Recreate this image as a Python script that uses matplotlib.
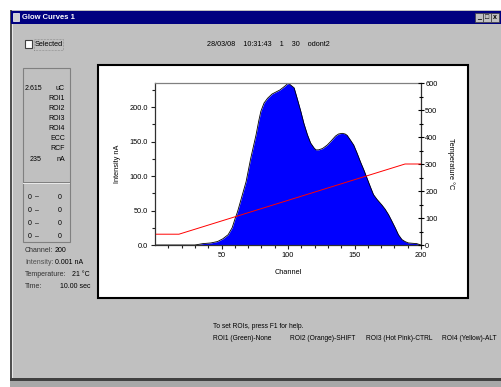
import matplotlib
matplotlib.use('Agg')
import matplotlib.pyplot as plt
import numpy as np
from matplotlib.patches import Rectangle

plt.rcParams['font.family'] = ['Liberation Sans', 'DejaVu Sans']

# glow curve (channel, intensity nA)
channel = [1, 30, 36, 42, 47, 51, 55, 58, 60, 62, 63.5, 66, 68.5, 72, 76, 78,
           79.6, 82, 84.7, 88, 91, 94, 96, 98, 99.6, 100.8, 102, 104.6, 107,
           109.6, 112, 114.6, 117, 119.5, 121, 123, 126, 129.5, 132, 135.7,
           138, 140.7, 143, 144.5, 147, 149.4, 152, 154.4, 157, 159.4, 162,
           164.3, 167, 170.6, 173, 175.6, 178, 180.6, 183, 185.6, 188, 190.5,
           196.8, 200]
intensity = [0, 0, 2, 3, 5, 9, 15, 25, 37, 48, 58, 75, 92, 126, 160, 180,
             194, 206, 213, 219, 222, 225, 228, 231, 234, 234, 232, 228, 212,
             194, 176, 160, 148, 141, 138, 138, 140, 145, 150, 158,
             161, 162, 161, 159, 152, 145, 133, 121, 109, 97, 84,
             73, 66, 58, 52, 44, 35, 25, 15, 8, 5, 3,
             2, 0]

# temperature profile
temp_ch = [1, 18, 188, 200]
temp_c = [40, 40, 300, 300]

header = '28/03/08    10:31:43    1    30    odont2'
panel_top = [('2.615', 'uC'), ('', 'ROI1'), ('', 'ROI2'), ('', 'ROI3'),
             ('', 'ROI4'), ('', 'ECC'), ('', 'RCF'), ('235', 'nA')]
roi_rows = [('0', '0')] * 4
status = [('Channel:', '200'), ('Intensity:', '0.001 nA'),
          ('Temperature:', '21 \u00b0C'), ('Time:', '10.00 sec')]
help_line = 'To set ROIs, press F1 for help.'
roi_keys = ['ROI1 (Green)-None', 'ROI2 (Orange)-SHIFT',
            'ROI3 (Hot Pink)-CTRL', 'ROI4 (Yellow)-ALT']
roi_x = [213, 290, 366, 442]

W, H = 501, 387
fig = plt.figure(figsize=(W / 100, H / 100), dpi=100)
fig.patch.set_facecolor('white')


def px(x, y):
    return x / W, 1 - y / H


def box(x0, y0, x1, y1, fc, ec='none', lw=0, z=0, ls='-'):
    fig.patches.append(Rectangle(px(x0, y1), (x1 - x0) / W, (y1 - y0) / H,
                                 transform=fig.transFigure, fc=fc, ec=ec,
                                 lw=lw, zorder=z, ls=ls))


def txt(x, y, s, size=5, ha='left', color='black', **kw):
    fig.text(*px(x, y), s, fontsize=size, ha=ha, va='center', color=color, **kw)


# window frame
box(10, 10, 501, 387, '#c0c0c0')
box(10, 378, 501, 381, '#404040')
box(10, 381, 501, 387, '#a8a8a8')
box(10, 10, 11.5, 378, '#505050')
box(11.5, 24, 13, 378, '#e8e8e8')
# title bar
box(11, 11, 501, 24, '#000080')
box(13, 13, 19, 21, '#d0d0d0', ec='white', lw=0.5, z=1)
txt(22, 17.5, 'Glow Curves 1', size=5.5, color='white', weight='bold')
for bx, s in zip([475, 483, 491], ['_', '\u25a1', 'x']):
    box(bx, 13, bx + 7.5, 22, '#c0c0c0', ec='#404040', lw=0.5, z=1)
    txt(bx + 3.8, 17.5, s, size=5, ha='center', weight='bold')

# checkbox and header
box(25, 40, 32, 48, 'white', ec='#404040', lw=0.8, z=1)
txt(35, 44.5, 'Selected', size=5.3)
box(34, 39.5, 63, 50, 'none', ec='#606060', lw=0.4, z=1, ls=':')
txt(268, 44, header, size=5.2, ha='center')

# left info panel
box(23, 68, 70, 242, '#c0c0c0', ec='#808080', lw=0.8)
box(23, 182, 70, 184, '#e8e8e8')
box(23, 182, 70, 183, '#808080')
for i, (v, u) in enumerate(panel_top):
    y = 88 + i * 10 + (2 if i == 7 else 0)
    txt(65, y, u, ha='right')
    if v:
        txt(42 if i == 0 else 41, y, v, ha='right')
for i, (a, b) in enumerate(roi_rows):
    y = 197 + i * 13.3
    txt(30, y, a, ha='center')
    txt(37, y, '\u2013', ha='center')
    txt(62, y, b, ha='right')
status_x = [55, 55, 72, 60]
for i, (lab, val) in enumerate(status):
    y = 250 + i * 12
    txt(25, y, lab, color='#303030' if i != 1 else '#505050')
    txt(status_x[i], y, val)

# help text
txt(213, 327, help_line, size=4.8)
for x, s in zip(roi_x, roi_keys):
    txt(x, 338, s, size=4.8)

# plot panel
box(98, 65, 468, 298, 'white', ec='black', lw=1.5, z=1)

ax = fig.add_axes([155 / W, 1 - 245 / H, 266 / W, 162 / H], zorder=3)
ax.set_facecolor('none')
ax.fill_between(channel, intensity, color='#0000ff', lw=0)
ax.plot(channel, intensity, color='black', lw=0.6)
ax.set_xlim(0, 200)
ax.set_ylim(0, 235)
ax.set_xticks([50, 100, 150, 200])
ax.set_xticks(np.arange(10, 200, 10), minor=True)
ax.set_yticks(np.arange(0, 201, 50))
ax.set_yticks(np.arange(25, 235, 25), minor=True)
ax.set_yticklabels(['%.1f' % v for v in np.arange(0, 201, 50)])
ax.tick_params(which='both', labelsize=5.3, width=0.8, color='#202020', pad=2)
ax.tick_params(which='major', length=3)
ax.tick_params(which='minor', length=2.5)
ax.set_xlabel('Channel', fontsize=5.3, labelpad=7)
ax.set_ylabel('Intensity nA', fontsize=5.3, labelpad=6)
for s in ax.spines.values():
    s.set_color('#303030')
    s.set_linewidth(0.9)
ax.spines['top'].set_color('#808080')

ax2 = ax.twinx()
ax2.plot(temp_ch, temp_c, color='#ff0000', lw=0.7)
ax2.set_ylim(0, 600)
ax2.set_yticks(np.arange(0, 601, 100))
ax2.set_yticks(np.arange(50, 600, 100), minor=True)
ax2.tick_params(which='both', labelsize=5.3, width=0.8, direction='inout', pad=1)
ax2.tick_params(which='major', length=4)
ax2.tick_params(which='minor', length=3)
ax2.set_ylabel('Temperature \u00b0C', fontsize=5.3, rotation=270, labelpad=12)
for s in ax2.spines.values():
    s.set_visible(False)

fig.savefig('out.png', dpi=100)
